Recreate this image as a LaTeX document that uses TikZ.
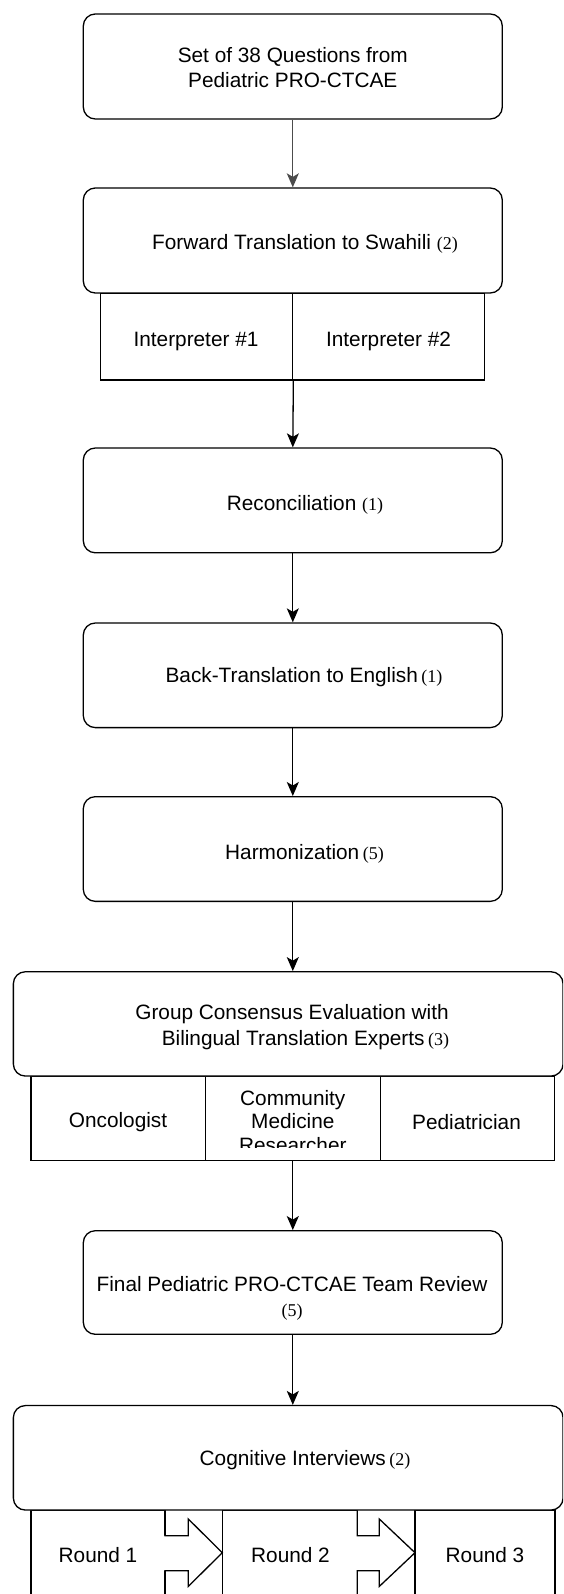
\documentclass[tikz,border=0pt]{standalone}
\usepackage{fontspec}
\setmainfont{Liberation Sans}
\newfontfamily\numfont{Liberation Serif}
\usetikzlibrary{arrows.meta}
\newcommand{\pnum}[1]{{\numfont\fontsize{18}{22}\selectfont #1}}
\begin{document}
\begin{tikzpicture}[x=1pt,y=-1pt,line width=1.3pt,
  box/.style={draw, rounded corners=12pt, fill=white, minimum width=419pt, minimum height=105pt, inner sep=0pt},
  wbox/.style={box, minimum width=549.7pt},
  txt/.style={align=center, inner sep=0pt, font=\fontsize{20.8}{25}\selectfont},
  cell/.style={draw, inner sep=0pt},
  arr/.style={-{Stealth[length=14pt,width=12pt,inset=3.5pt]}},
  blockarrow/.style={line width=1.3pt}
]
\useasboundingbox (0,0) rectangle (563,1594);
\clip (0,0) rectangle (563,1594);

% Box 1
\node[box] (b1) at (292.8,66.5) {};
\node[txt] (t1) at (292.8,67.5) {Set of 38 Questions from\\Pediatric PRO-CTCAE};

% Box 2 with interpreters
\node[cell, minimum width=192.1pt, minimum height=87pt] (i1) at (196.65,336.5) {};
\node[cell, minimum width=192.1pt, minimum height=87pt] (i2) at (388.75,336.5) {};
\node[txt] (ti1) at (196,341.5) {Interpreter \#1};
\node[txt] (ti2) at (388.5,341.5) {Interpreter \#2};
\node[box] (b2) at (292.8,240.5) {};
\node[txt] (t2) at (305,244) {Forward Translation to Swahili \pnum{(2)}};

% Box 3
\node[box, minimum height=104.8pt] (b3) at (292.8,500.4) {};
\node[txt] (t3) at (305,504.5) {Reconciliation \pnum{(1)}};

% Box 4
\node[box, minimum height=104.6pt] (b4) at (292.8,675.3) {};
\node[txt] (t4) at (304,677.5) {Back-Translation to English\,\pnum{(1)}};

% Box 5
\node[box, minimum height=104.7pt] (b5) at (292.8,849) {};
\node[txt] (t5) at (304.5,853.5) {Harmonization\,\pnum{(5)}};

% Box 6 with experts
\node[cell, minimum width=174.3pt, minimum height=84.6pt] (o) at (118.15,1118.3) {};
\node[cell, minimum width=175pt, minimum height=84.6pt] (c) at (292.8,1118.3) {};
\node[cell, minimum width=174.4pt, minimum height=84.6pt] (p) at (467.5,1118.3) {};
\node[txt] (to) at (118,1122.5) {Oncologist};
\node[txt] (tp) at (466.5,1122) {Pediatrician};
\begin{scope}
  \clip (206,1077) rectangle (379.5,1147.5);
  \node[txt, font=\fontsize{20.8}{23.5}\selectfont] (tc) at (292.8,1121.5) {Community\\Medicine\\Researcher};
\end{scope}
\node[wbox, minimum height=104.3pt] (b6) at (288.2,1023.9) {};
\node[txt] (t6a) at (292,1014.5) {Group Consensus Evaluation with};
\node[txt] (t6b) at (305.4,1040) {Bilingual Translation Experts\,\pnum{(3)}};

% Box 7
\node[box, minimum height=103.6pt] (b7) at (292.8,1282.5) {};
\node[txt] (t7) at (292,1298.5) {Final Pediatric PRO-CTCAE Team Review\\\pnum{(5)}};

% Box 8 with rounds
\node[cell, minimum width=134pt, minimum height=86.6pt] (r1) at (98,1554) {};
\node[cell, minimum width=135pt, minimum height=86.6pt] (r2) at (289.8,1554) {};
\node[cell, minimum width=140pt, minimum height=86.6pt] (r3) at (485,1554) {};
\node[txt] (tr1) at (98,1555.5) {Round 1};
\node[txt] (tr2) at (290.5,1555.5) {Round 2};
\node[txt] (tr3) at (485,1555.5) {Round 3};
\node[wbox, minimum height=104.5pt] (b8) at (288.2,1457.8) {};
\node[txt] (t8) at (305,1460) {Cognitive Interviews\,\pnum{(2)}};

% block arrows between rounds
\fill[white] (163.5,1535.7) -- (188.3,1535.7) -- (188.3,1519) -- (221.5,1552.7) -- (188.3,1586.4) -- (188.3,1570.7) -- (163.5,1570.7) -- cycle;
\draw[blockarrow] (165,1511) -- (165,1535.7) -- (188.3,1535.7) -- (188.3,1519) -- (222.3,1552.7) -- (188.3,1586.4) -- (188.3,1570.7) -- (165,1570.7) -- (165,1600);
\fill[white] (355.8,1535.7) -- (379.3,1535.7) -- (379.3,1519) -- (414.2,1552.7) -- (379.3,1586.4) -- (379.3,1570.7) -- (355.8,1570.7) -- cycle;
\draw[blockarrow] (357.3,1511) -- (357.3,1535.7) -- (379.3,1535.7) -- (379.3,1519) -- (415,1552.7) -- (379.3,1586.4) -- (379.3,1570.7) -- (357.3,1570.7) -- (357.3,1600);

% connectors
\draw[arr, draw=black!70] (b1.south) -- (b2.north);
\draw[arr] (i1.south east) -- (b3.north);
\draw[arr] (b3.south) -- (b4.north);
\draw[arr] (b4.south) -- (b5.north);
\draw[arr] (b5.south) -- (b5.south |- b6.north);
\draw[arr] (c.south) -- (b7.north);
\draw[arr] (b7.south) -- (b7.south |- b8.north);
\end{tikzpicture}
\end{document}
